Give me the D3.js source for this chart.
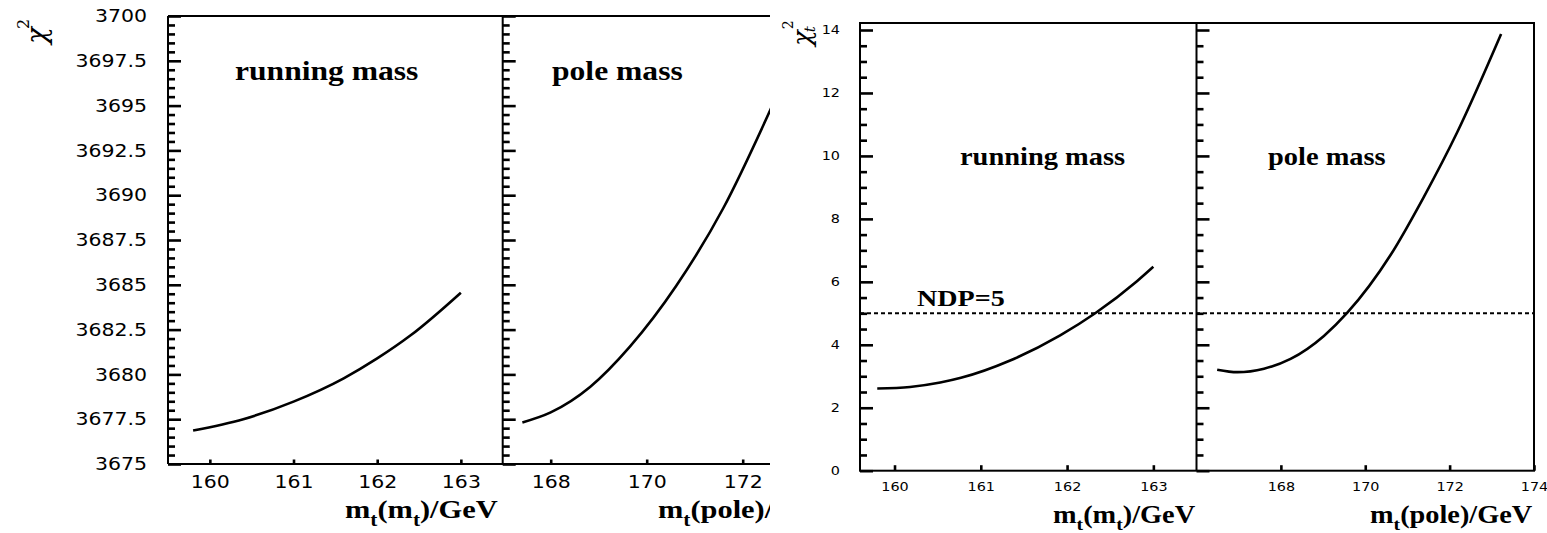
<!DOCTYPE html>
<html>
<head>
<meta charset="utf-8">
<script src="https://cdn.jsdelivr.net/npm/d3@7"></script>
<style>
  body { margin: 0; background: #fff; }
  svg { display: block; }
</style>
</head>
<body>
<svg id="chart" width="1547" height="533"></svg>
<script>
// left figure: total chi^2 against the top mass
const runMass1 = [159.8, 160.4, 161.0, 161.6, 162.0, 162.4, 163.0];
const runChi1 = [3676.87, 3677.5, 3678.48, 3679.78, 3680.89, 3682.18, 3684.56];
const poleMass1 = [167.41, 168.0, 168.82, 169.65, 170.62, 171.6, 172.6];
const poleChi1 = [3677.32, 3677.88, 3679.3, 3681.55, 3684.96, 3689.3, 3694.9];

// right figure: top-quark chi^2 contribution
const runMass2 = [159.8, 160.18, 160.53, 160.77, 161.34, 161.92, 162.33, 162.81, 163.0];
const runChi2 = [2.61, 2.66, 2.80, 2.95, 3.50, 4.30, 5.01, 6.02, 6.48];
const poleMass2 = [166.49, 166.97, 167.6, 168.23, 169.02, 169.57, 170.6, 171.39, 172.18, 173.22];
const poleChi2 = [3.21, 3.13, 3.24, 3.55, 4.28, 5.01, 6.85, 8.7, 10.75, 13.87];
const ndp = 5;

// ticks
const runTicks = [160, 161, 162, 163];
const poleTicks1 = [168, 170, 172];
const poleTicks2 = [168, 170, 172, 174];
const chiMajor1 = d3.range(3675, 3700.01, 2.5);
const chiMinor1 = d3.range(3675, 3700.01, 0.5).filter(v => !chiMajor1.includes(v));
const chiMajor2 = d3.range(0, 14.01, 2);
const chiMinor2 = d3.range(0, 14.01, 0.5).filter(v => !chiMajor2.includes(v));

const SX = 1.17; // the scanned figure is stretched sideways
const svg = d3.select('#chart');

function yTicks(g, y, x0, majors, minors, big, small) {
  [[majors, big], [minors, small]].forEach(([vals, len]) => {
    g.append('g')
      .attr('transform', `translate(${x0},0)`)
      .call(d3.axisRight(y).tickValues(vals).tickSize(len).tickFormat(''))
      .call(s => s.select('.domain').remove())
      .selectAll('line').attr('stroke', '#000').attr('stroke-width', 2.6);
  });
}

function xTicks(g, x, y0, vals, len) {
  g.append('g')
    .attr('transform', `translate(0,${y0})`)
    .call(d3.axisTop(x).tickValues(vals).tickSize(len).tickFormat(''))
    .call(s => s.select('.domain').remove())
    .selectAll('line').attr('stroke', '#000').attr('stroke-width', 2.6);
}

function stretchTexts(sel, size) {
  sel.call(s => s.select('.domain').remove());
  sel.selectAll('text')
    .attr('font-family', 'DejaVu Sans')
    .attr('font-size', size)
    .attr('fill', '#000')
    .attr('x', function() { return (+this.getAttribute('x') || 0) / SX; })
    .attr('transform', `scale(${SX},1)`);
}

function yLabels(g, y, x0, vals, pad, size, fmt) {
  g.append('g')
    .attr('transform', `translate(${x0},0)`)
    .call(d3.axisLeft(y).tickValues(vals).tickSize(0).tickPadding(pad).tickFormat(fmt))
    .call(s => stretchTexts(s, size));
}

function xLabels(g, x, y0, vals, pad, size) {
  g.append('g')
    .attr('transform', `translate(0,${y0})`)
    .call(d3.axisBottom(x).tickValues(vals).tickSize(0).tickPadding(pad).tickFormat(d3.format('d')))
    .call(s => stretchTexts(s, size));
}

// bold serif label; parts are [text, isSubscript]
function label(g, x, y, size, parts) {
  const t = g.append('text')
    .attr('transform', `translate(${x},${y}) scale(${SX},1)`)
    .attr('font-family', 'Liberation Serif')
    .attr('font-weight', 'bold')
    .attr('font-size', size)
    .attr('fill', '#000');
  let low = false;
  parts.forEach(([s, sub]) => {
    const ts = t.append('tspan').text(s);
    if (sub && !low) { ts.attr('font-size', size * 0.7).attr('dy', size * 0.3); low = true; }
    else if (!sub && low) { ts.attr('dy', -size * 0.3); low = false; }
    else if (sub) ts.attr('font-size', size * 0.7);
  });
  return t;
}

function curve(g, x, y, xs, ys) {
  const line = d3.line().x(d => x(d[0])).y(d => y(d[1])).curve(d3.curveMonotoneX);
  g.append('path')
    .attr('d', line(d3.zip(xs, ys)))
    .attr('fill', 'none')
    .attr('stroke', '#000')
    .attr('stroke-width', 2.6);
}

function hline(g, x1, x2, y) {
  g.append('line').attr('x1', x1).attr('x2', x2).attr('y1', y).attr('y2', y)
    .attr('stroke', '#000').attr('stroke-width', 2);
}
function vline(g, x, y1, y2) {
  g.append('line').attr('x1', x).attr('x2', x).attr('y1', y1).attr('y2', y2)
    .attr('stroke', '#000').attr('stroke-width', 2);
}

// ---------- left figure (cropped at its right side) ----------
svg.append('clipPath').attr('id', 'crop')
  .append('rect').attr('x', 0).attr('y', 0).attr('width', 770).attr('height', 533);
const left = svg.append('g').attr('clip-path', 'url(#crop)');

const y1 = d3.scaleLinear().domain([3675, 3700]).range([464, 16]);
const xr1 = d3.scaleLinear().domain([159.5, 163.5]).range([168, 502.7]);
const xp1 = d3.scaleLinear().domain([167, 174]).range([502.7, 838.7]);

hline(left, 168, 840, 16);
hline(left, 168, 840, 464);
vline(left, 168, 16, 464);
vline(left, 502.7, 16, 464);
yTicks(left, y1, 168, chiMajor1, chiMinor1, 13, 7);
yTicks(left, y1, 502.7, chiMajor1, chiMinor1, 13, 7);
xTicks(left, xr1, 464, runTicks, 4.5);
xTicks(left, xp1, 464, poleTicks1, 4.5);
yLabels(left, y1, 168, chiMajor1, 21, 17.5, d => d % 1 ? d.toFixed(1) : d);
xLabels(left, xr1, 464, runTicks, 11.5, 17.5);
xLabels(left, xp1, 464, poleTicks1, 11.5, 17.5);
curve(left, xr1, y1, runMass1, runChi1);
curve(left, xp1, y1, poleMass1, poleChi1);
label(left, 235, 80, 27, [['running mass']]);
label(left, 552, 80, 27, [['pole mass']]);
label(left, 345, 518, 26, [['m'], ['t', true], ['(m'], ['t', true], [')/GeV']]);
label(left, 658, 518, 26, [['m'], ['t', true], ['(pole)/GeV']]);

const yt1 = svg.append('text')
  .attr('transform', 'translate(46,44) rotate(-90)')
  .attr('font-family', 'DejaVu Serif')
  .attr('font-style', 'italic')
  .attr('font-size', 28)
  .attr('fill', '#000');
yt1.append('tspan').text('χ');
yt1.append('tspan').text('2').attr('font-size', 16).attr('font-style', 'normal').attr('dx', -2).attr('dy', -17);

// ---------- right figure ----------
const right = svg.append('g');
const y2 = d3.scaleLinear().domain([0, 14]).range([470.7, 30]);
const xr2 = d3.scaleLinear().domain([159.6, 163.5]).range([860, 1196.5]);
const xp2 = d3.scaleLinear().domain([166, 174]).range([1196.5, 1534]);

right.append('rect').attr('x', 860).attr('y', 23).attr('width', 674).attr('height', 447.7)
  .attr('fill', 'none').attr('stroke', '#000').attr('stroke-width', 2);
vline(right, 1196.5, 23, 470.7);
yTicks(right, y2, 860, chiMajor2, chiMinor2, 13, 7);
yTicks(right, y2, 1196.5, chiMajor2, chiMinor2, 13, 7);
xTicks(right, xr2, 470.7, runTicks, 5.5);
xTicks(right, xp2, 470.7, poleTicks2, 5.5);
yLabels(right, y2, 860, chiMajor2, 20, 12.3, d3.format('d'));
xLabels(right, xr2, 470.7, runTicks, 11.6, 12.3);
xLabels(right, xp2, 470.7, poleTicks2, 11.6, 12.3);

right.append('line')
  .attr('x1', 860).attr('x2', 1534).attr('y1', y2(ndp)).attr('y2', y2(ndp))
  .attr('stroke', '#000').attr('stroke-width', 2).attr('stroke-dasharray', '4,3');

curve(right, xr2, y2, runMass2, runChi2);
curve(right, xp2, y2, poleMass2, poleChi2);
label(right, 960, 165, 24.3, [['running mass']]);
label(right, 1268, 165, 24.3, [['pole mass']]);
label(right, 917, 306, 24, [['NDP=' + ndp]]);
label(right, 1053, 523, 24.2, [['m'], ['t', true], ['(m'], ['t', true], [')/GeV']]);
label(right, 1370, 523, 24.2, [['m'], ['t', true], ['(pole)/GeV']]);

const yt2 = svg.append('text')
  .attr('transform', 'translate(811,46) rotate(-90)')
  .attr('font-family', 'DejaVu Serif')
  .attr('font-style', 'italic')
  .attr('font-size', 26)
  .attr('fill', '#000');
yt2.append('tspan').text('χ');
yt2.append('tspan').text('t').attr('font-size', 15).attr('dx', -2).attr('dy', 4);
yt2.append('tspan').text('2').attr('font-size', 14).attr('font-style', 'normal').attr('dx', -3).attr('dy', -22);
</script>
</body>
</html>
